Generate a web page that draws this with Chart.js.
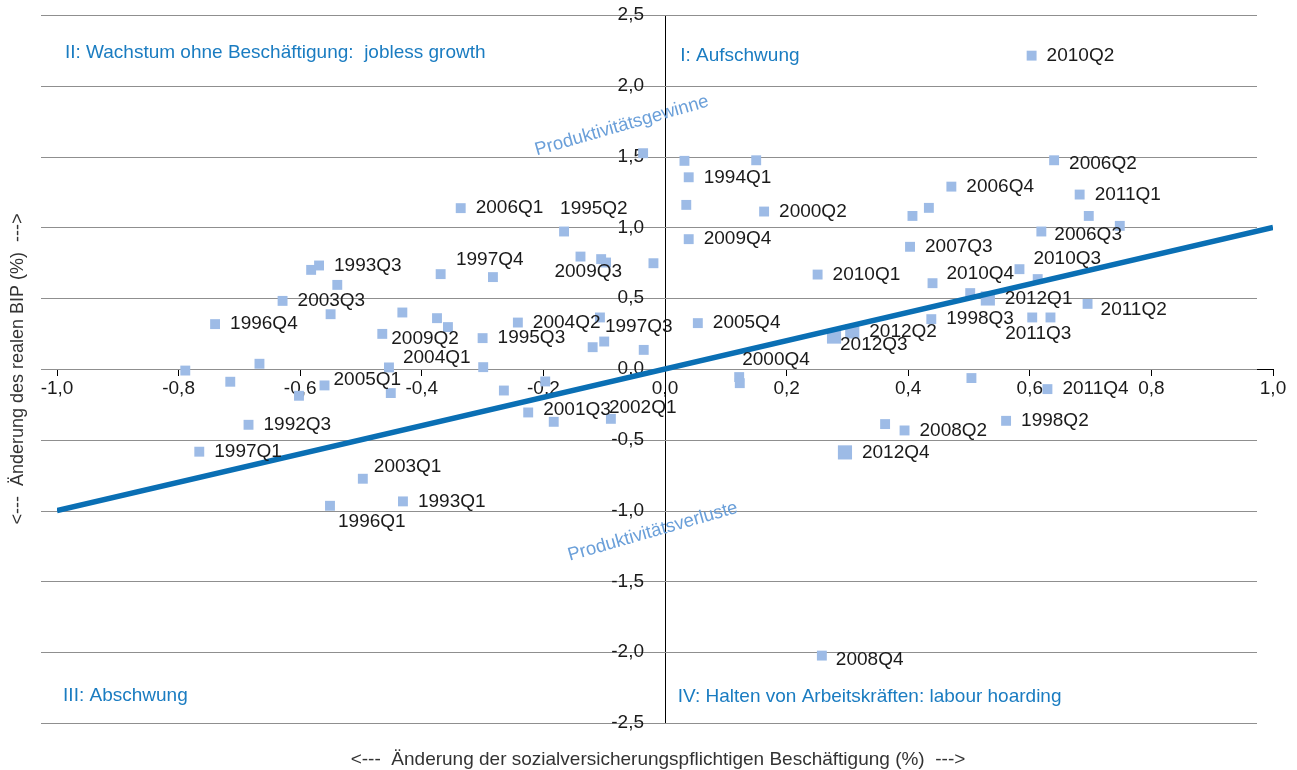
<!DOCTYPE html>
<html>
<head>
<meta charset="utf-8">
<script src="https://cdn.jsdelivr.net/npm/chart.js@4"></script>
<style>
  body { margin: 0; background: #fff; }
</style>
</head>
<body>
<canvas id="myChart" width="1297" height="770"></canvas>
<script>
/* data */
var xValues = [
  -0.036, -0.336, -0.166, -0.139, -0.105, -0.097, -0.019, -0.369, -0.283, -0.582,
  -0.569, -0.539, -0.629, -0.550, -0.740, -0.432, -0.375, -0.357, -0.465, -0.300,
  -0.242, -0.107, -0.100, -0.119, -0.035, -0.454, -0.299, -0.667, -0.789,
  -0.715, -0.560, -0.602, -0.451, -0.265, -0.197, -0.225, -0.183, -0.089, -0.685,
  -0.766, -0.497, -0.431, -0.551,
  0.603, 0.032, 0.150, 0.039, 0.035, 0.163, 0.039, 0.251, 0.471, 0.434,
  0.407, 0.403, 0.640, 0.682, 0.697, 0.748, 0.619, 0.583, 0.613, 0.440,
  0.502, 0.531, 0.695, 0.438, 0.604, 0.634, 0.308, 0.278, 0.054, 0.122,
  0.123,
  0.504, 0.629, 0.362, 0.394, 0.561, 0.296, 0.258
];
var yValues = [
  1.524, 1.136, 0.971, 0.794, 0.776, 0.752, 0.747, 0.670, 0.649, 0.700,
  0.731, 0.594, 0.481, 0.387, 0.317, 0.399, 0.359, 0.296, 0.248, 0.218,
  0.328, 0.364, 0.194, 0.154, 0.135, 0.011, 0.013, 0.037, -0.011,
  -0.090, -0.116, -0.189, -0.170, -0.152, -0.088, -0.307, -0.373, -0.352, -0.394,
  -0.584, -0.775, -0.935, -0.966,
  2.213, 1.470, 1.474, 1.354, 1.159, 1.112, 0.917, 0.667, 1.288, 1.138,
  1.081, 0.863, 1.474, 1.232, 1.081, 1.011, 0.971, 0.705, 0.635, 0.606,
  0.536, 0.498, 0.460, 0.352, 0.364, 0.364, 0.265, 0.229, 0.324, -0.057,
  -0.100,
  -0.064, -0.142, -0.389, -0.434, -0.366, -0.589, -2.024
];
var pointLabels = [
  '', '2006Q1', '1995Q2', '2009Q3', '', '', '', '', '1997Q4', '',
  '1993Q3', '', '2003Q3', '', '1996Q4', '', '', '', '2009Q2', '1995Q3',
  '2004Q2', '1997Q3', '', '', '', '2004Q1', '', '', '',
  '', '2005Q1', '', '', '', '', '2001Q3', '', '2002Q1', '1992Q3',
  '1997Q1', '2003Q1', '1993Q1', '1996Q1',
  '2010Q2', '', '', '1994Q1', '', '2000Q2', '2009Q4', '2010Q1', '2006Q4', '',
  '', '2007Q3', '2006Q2', '2011Q1', '', '', '2006Q3', '2010Q3', '', '2010Q4',
  '', '2012Q1', '2011Q2', '1998Q3', '2011Q3', '', '2012Q2', '2012Q3', '2005Q4', '2000Q4',
  '',
  '', '2011Q4', '', '2008Q2', '1998Q2', '2012Q4', '2008Q4'
];
var lineX = [-1, 1];
var lineY = [-1, 1];
var xTicks = [-1, -0.8, -0.6, -0.4, -0.2, 0, 0.2, 0.4, 0.6, 0.8, 1];
var yTicks = [-2.5, -2, -1.5, -1, -0.5, 0, 0.5, 1, 1.5, 2, 2.5];

/* label placement (pixel offsets from the point) */
var labelOffsets = {
  '1995Q2': [-4, -23], '2009Q3': [-26, 15], '1997Q4': [-37, -17],
  '2009Q2': [9, 5], '1997Q3': [5, 9], '2004Q1': [14, -10], '2005Q1': [9, -6],
  '2001Q3': [15, -3], '2002Q1': [-2, -11], '2003Q1': [11, -12], '1996Q1': [8, 16],
  '2006Q2': [15, 3], '2006Q3': [13, 3], '2010Q3': [14, -10], '2010Q4': [14, -9],
  '2011Q2': [13, 6], '2011Q3': [-27, 16], '2012Q3': [6, 8], '2000Q4': [3, -17],
  '2008Q4': [14, 4]
};

var fontName = '"Liberation Sans", Arial, sans-serif';
var pointColor = '#9dbbe6';
var lineColor = '#0a6fb4';
var quadColor = '#1a7cc1';

function fmt(v) {
  return v.toFixed(1).replace('.', ',');
}

var scatterData = xValues.map((x, i) => ({x: x, y: yValues[i]}));
var lineData = lineX.map((x, i) => ({x: x, y: lineY[i]}));

/* gridlines (a bit left of the plot like the original) + y tick labels */
var gridPlugin = {
  id: 'grid',
  beforeDatasetsDraw: function(chart) {
    var ctx = chart.ctx, area = chart.chartArea, ys = chart.scales.y, xs = chart.scales.x;
    var x0 = xs.getPixelForValue(0);
    ctx.save();
    ctx.strokeStyle = '#8f8f8f';
    ctx.lineWidth = 1.2;
    yTicks.forEach((v) => {
      var py = Math.round(ys.getPixelForValue(v)) + 0.5;
      ctx.beginPath();
      ctx.moveTo(area.left - 16, py);
      ctx.lineTo(area.right - 16, py);
      ctx.stroke();
    });
    ctx.fillStyle = '#1a1a1a';
    ctx.font = '19px ' + fontName;
    ctx.textAlign = 'right';
    ctx.textBaseline = 'middle';
    yTicks.forEach((v) => {
      ctx.fillText(fmt(v), x0 - 21, ys.getPixelForValue(v));
    });
    ctx.restore();
  }
};

/* texts: point labels, quadrants, axis titles */
var textPlugin = {
  id: 'texts',
  afterDatasetsDraw: function(chart) {
    var ctx = chart.ctx, xs = chart.scales.x, ys = chart.scales.y;
    ctx.save();
    ctx.font = '19px ' + fontName;
    ctx.fillStyle = '#1a1a1a';
    ctx.textAlign = 'left';
    ctx.textBaseline = 'middle';
    chart.getDatasetMeta(1).data.forEach((pt, i) => {
      var lab = pointLabels[i];
      if (!lab) return;
      var big = lab.indexOf('2012') == 0;
      var off = labelOffsets[lab] || [big ? 17 : 15, 0];
      ctx.fillText(lab, pt.x + off[0], pt.y + off[1]);
    });

    ctx.fillStyle = quadColor;
    ctx.font = '19px ' + fontName;
    ctx.fillText('II: Wachstum ohne Beschäftigung:  jobless growth', xs.getPixelForValue(-0.987), ys.getPixelForValue(2.23));
    ctx.fillText('I: Aufschwung', xs.getPixelForValue(0.025), ys.getPixelForValue(2.21));
    ctx.fillText('III: Abschwung', xs.getPixelForValue(-0.99), ys.getPixelForValue(-2.307));
    ctx.fillText('IV: Halten von Arbeitskräften: labour hoarding', xs.getPixelForValue(0.021), ys.getPixelForValue(-2.314));

    ctx.fillStyle = '#6a9fd9';
    ctx.font = '18.5px ' + fontName;
    ctx.textAlign = 'center';
    [['Produktivitätsgewinne', -0.071, 1.717], ['Produktivitätsverluste', -0.02, -1.149]].forEach((t) => {
      ctx.save();
      ctx.translate(xs.getPixelForValue(t[1]), ys.getPixelForValue(t[2]));
      ctx.rotate(-16 * Math.PI / 180);
      ctx.fillText(t[0], 0, 0);
      ctx.restore();
    });

    ctx.fillStyle = '#333';
    ctx.font = '19px ' + fontName;
    ctx.fillText('<---  Änderung der sozialversicherungspflichtigen Beschäftigung (%)  --->', 658, 760);
    ctx.font = '18px ' + fontName;
    ctx.save();
    ctx.translate(18, 369);
    ctx.rotate(-Math.PI / 2);
    ctx.fillText('<---  Änderung des realen BIP (%)  --->', 0, 0);
    ctx.restore();
    ctx.restore();
  }
};

var ctx = document.getElementById('myChart').getContext('2d');
var myChart = new Chart(ctx, {
  type: 'scatter',
  data: {
    datasets: [
      {
        type: 'line',
        label: 'Linie',
        data: lineData,
        borderColor: lineColor,
        borderWidth: 5.5,
        pointRadius: 0,
        fill: false
      },
      {
        label: 'Quartale',
        data: scatterData,
        pointStyle: 'rect',
        backgroundColor: pointColor,
        borderWidth: 0,
        pointRadius: pointLabels.map((l) => (l.indexOf('2012') == 0 ? 10 : 7))
      }
    ]
  },
  options: {
    responsive: false,
    animation: false,
    layout: {
      padding: {left: 57, right: 24, top: 15, bottom: 47}
    },
    plugins: {
      legend: {display: false},
      tooltip: {enabled: false}
    },
    scales: {
      x: {
        type: 'linear',
        min: -1,
        max: 1,
        position: {y: 0},
        afterBuildTicks: function(axis) {
          axis.ticks = xTicks.map((v) => ({value: v}));
        },
        grid: {drawOnChartArea: false, drawTicks: true, tickLength: 6, color: '#000'},
        border: {color: '#000', width: 1},
        ticks: {
          autoSkip: false,
          maxRotation: 0,
          padding: 2,
          color: '#1a1a1a',
          font: {family: fontName, size: 19},
          callback: function(v) { return fmt(v); }
        }
      },
      y: {
        type: 'linear',
        min: -2.5,
        max: 2.5,
        position: {x: 0},
        afterBuildTicks: function(axis) {
          axis.ticks = yTicks.map((v) => ({value: v}));
        },
        grid: {display: false},
        border: {display: true, color: '#000', width: 1},
        ticks: {display: false}
      }
    }
  },
  plugins: [gridPlugin, textPlugin]
});
</script>
</body>
</html>
